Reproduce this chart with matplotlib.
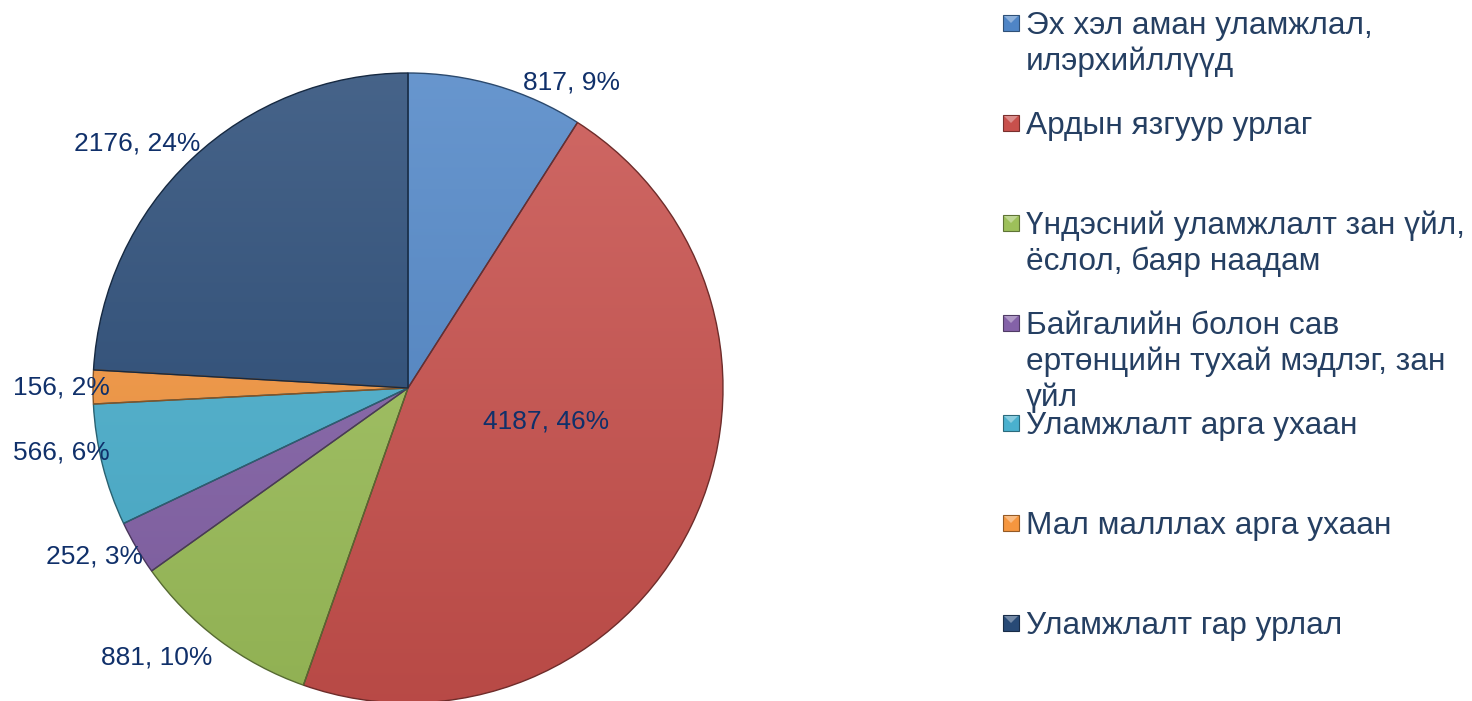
import numpy as np
import matplotlib
matplotlib.use("Agg")
import matplotlib.pyplot as plt
from matplotlib.patches import Rectangle, Polygon
from matplotlib.colors import to_rgb

plt.rcParams['font.family'] = ['Liberation Sans', 'DejaVu Sans']

# --- data ---
categories = [
    "Эх хэл аман уламжлал,\nилэрхийллүүд",
    "Ардын язгуур урлаг",
    "Үндэсний уламжлалт зан үйл,\nёслол, баяр наадам",
    "Байгалийн болон сав\nертөнцийн тухай мэдлэг, зан\nүйл",
    "Уламжлалт арга ухаан",
    "Мал малллах арга ухаан",
    "Уламжлалт гар урлал",
]
values = [817, 4187, 881, 252, 566, 156, 2176]
colors = ["#4F85C6", "#C8504C", "#9DC05A", "#8462A8", "#4AB0CE", "#F5963F", "#284A76"]

# label placement (radius in pie units, angle in degrees)
label_pos = [(1.10, 61.8), (0.45, -13.5), (1.17, -132.9), (1.13, -151.8),
             (1.12, -169.4), (1.10, 180.0), (1.16, 137.9)]

W, H = 1472, 701
fig = plt.figure(figsize=(W / 100, H / 100), dpi=100)

# pie axes: centre (408, 388) px, radius 315 px
cx, cy, r = 408, 388, 315
ax = fig.add_axes([(cx - r) / W, (H - cy - r) / H, 2 * r / W, 2 * r / H])


def shade(c, f):
    c = np.array(to_rgb(c))
    if f > 0:
        return c + (1 - c) * f
    return c * (1 + f)


wedges, _ = ax.pie(values, colors=colors, startangle=90, counterclock=False,
                   radius=1, wedgeprops=dict(linewidth=1.0))

# vertical gradient inside each wedge, lighter at the top
t = np.linspace(0, 1, 256)[:, None]
for w, c in zip(wedges, colors):
    top, bot = shade(c, 0.14), shade(c, -0.08)
    grad = (top[None, None, :] * (1 - t[..., None]) + bot[None, None, :] * t[..., None])
    im = ax.imshow(grad, extent=(-1, 1, -1, 1), origin="upper", zorder=1,
                   aspect="auto", interpolation="bilinear")
    im.set_clip_path(w)
    w.set_facecolor("none")
    w.set_edgecolor(shade(c, -0.45))
    w.set_zorder(2)

total = sum(values)
for v, (d, a) in zip(values, label_pos):
    pct = round(v / total * 100)
    ax.text(d * np.cos(np.radians(a)), d * np.sin(np.radians(a)), f"{v}, {pct}%",
            ha="center", va="center", fontsize=19, color="#10306A", zorder=5, clip_on=False)

ax.set_xlim(-1, 1)
ax.set_ylim(-1, 1)
ax.axis("off")

# legend drawn in pixel coordinates
lg = fig.add_axes([0, 0, 1, 1])
lg.set_xlim(0, W)
lg.set_ylim(H, 0)
lg.axis("off")
lg.patch.set_alpha(0)

s = 16
for i, (name, c) in enumerate(zip(categories, colors)):
    yc = 23 + 100 * i
    x0, y0 = 1003, yc - s / 2
    lg.add_patch(Rectangle((x0, y0), s, s, facecolor=c, edgecolor=shade(c, -0.4), lw=0.8))
    lg.add_patch(Polygon([(x0 + 1, y0 + 1), (x0 + s - 1, y0 + 1), (x0 + s / 2, y0 + s / 2)],
                         closed=True, facecolor=shade(c, 0.35), edgecolor="none"))
    for k, line in enumerate(name.split("\n")):
        lg.text(1026, yc + 11 + 36 * k, line, ha="left", va="baseline",
                fontsize=22.8, color="#253F62")

fig.savefig("out.png", dpi=100)
